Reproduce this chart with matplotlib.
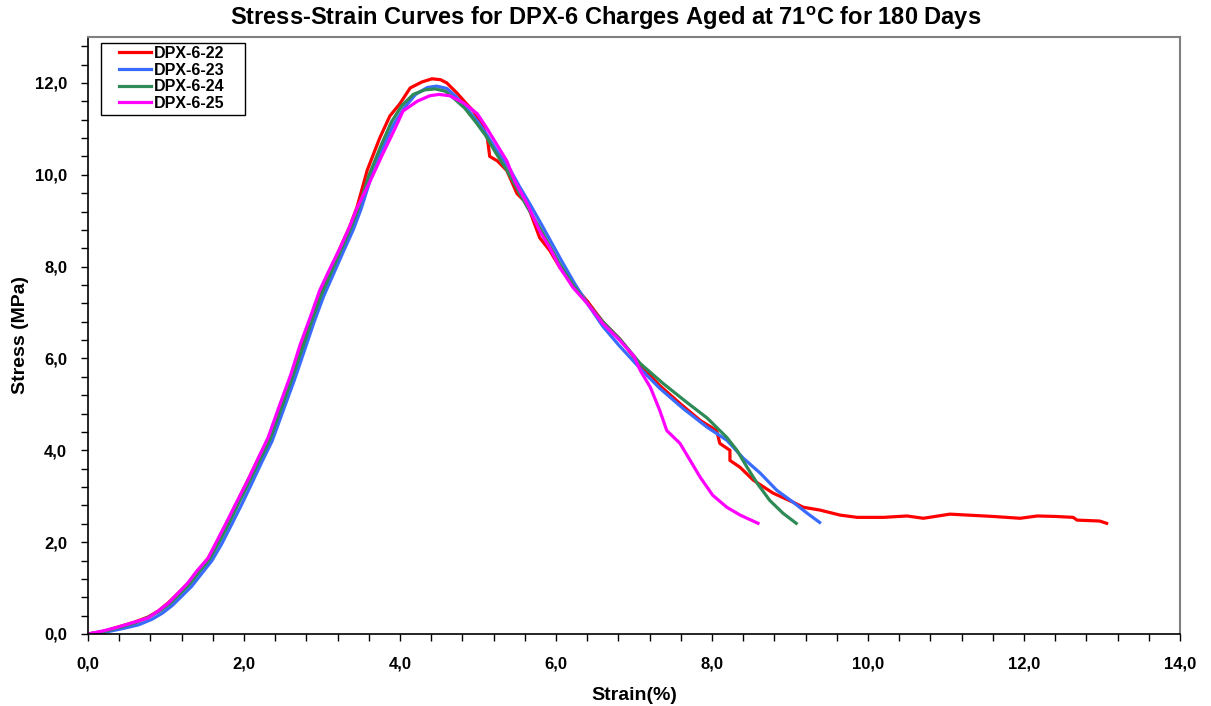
import numpy as np
import matplotlib
matplotlib.use("Agg")
import matplotlib.pyplot as plt
from matplotlib.patches import Rectangle
from matplotlib.ticker import MultipleLocator, FuncFormatter

plt.rcParams["font.family"] = ["Liberation Sans", "DejaVu Sans"]
plt.rcParams["font.weight"] = "bold"
plt.rcParams["mathtext.fontset"] = "custom"
plt.rcParams["mathtext.rm"] = "Liberation Sans:bold"
plt.rcParams["mathtext.bf"] = "Liberation Sans:bold"

# (strain %, stress MPa)
dpx22 = [(0, 0), (0.2, 0.06), (0.4, 0.16), (0.6, 0.26), (0.77, 0.37), (0.9, 0.5),
         (1.03, 0.68), (1.15, 0.88), (1.28, 1.1), (1.4, 1.36), (1.54, 1.65), (1.66, 2.02),
         (1.79, 2.45), (1.92, 2.9), (2.05, 3.35), (2.18, 3.8), (2.31, 4.25), (2.46, 4.95),
         (2.6, 5.6), (2.72, 6.2), (2.85, 6.85), (2.97, 7.4), (3.1, 7.9), (3.23, 8.4),
         (3.35, 8.85), (3.45, 9.3), (3.58, 10.1), (3.74, 10.8), (3.87, 11.28), (4.0, 11.55),
         (4.13, 11.89), (4.28, 12.02), (4.41, 12.09), (4.52, 12.07), (4.6, 12.0), (4.73, 11.78),
         (4.85, 11.55), (4.94, 11.39), (5.05, 11.1), (5.12, 10.8), (5.15, 10.4), (5.25, 10.3),
         (5.37, 10.09), (5.5, 9.59), (5.63, 9.37), (5.79, 8.63), (5.92, 8.35), (6.05, 7.98),
         (6.22, 7.6), (6.4, 7.25), (6.6, 6.8), (6.82, 6.42), (7.08, 5.85), (7.33, 5.41),
         (7.59, 5.02), (7.85, 4.65), (8.06, 4.43), (8.1, 4.15), (8.23, 4.0), (8.23, 3.78),
         (8.36, 3.63), (8.53, 3.35), (8.78, 3.07), (9.04, 2.87), (9.17, 2.76), (9.38, 2.7),
         (9.64, 2.59), (9.86, 2.54), (10.2, 2.54), (10.5, 2.57), (10.71, 2.52), (11.05, 2.61),
         (11.27, 2.59), (11.6, 2.56), (11.95, 2.52), (12.17, 2.57), (12.4, 2.56), (12.63, 2.54),
         (12.68, 2.48), (12.97, 2.46), (13.06, 2.41)]

dpx23 = [(0, 0), (0.25, 0.05), (0.45, 0.12), (0.65, 0.2), (0.82, 0.32), (0.95, 0.45),
         (1.08, 0.62), (1.2, 0.82), (1.33, 1.04), (1.45, 1.3), (1.59, 1.6), (1.71, 1.95),
         (1.84, 2.38), (1.97, 2.82), (2.1, 3.28), (2.23, 3.75), (2.36, 4.2), (2.51, 4.9),
         (2.65, 5.55), (2.77, 6.15), (2.9, 6.8), (3.02, 7.35), (3.15, 7.85), (3.28, 8.35),
         (3.4, 8.8), (3.5, 9.25), (3.63, 9.95), (3.78, 10.6), (3.92, 11.1), (4.05, 11.45),
         (4.2, 11.75), (4.35, 11.9), (4.47, 11.93), (4.6, 11.88), (4.72, 11.7), (4.85, 11.45),
         (5.0, 11.15), (5.12, 10.85), (5.25, 10.5), (5.4, 10.15), (5.53, 9.75), (5.67, 9.35),
         (5.82, 8.9), (5.95, 8.5), (6.08, 8.1), (6.25, 7.6), (6.42, 7.15), (6.6, 6.7),
         (6.8, 6.3), (7.08, 5.78), (7.33, 5.35), (7.63, 4.91), (7.94, 4.5), (8.19, 4.22),
         (8.4, 3.83), (8.62, 3.5), (8.83, 3.13), (9.04, 2.87), (9.22, 2.63), (9.38, 2.43)]

dpx24 = [(0, 0), (0.22, 0.06), (0.42, 0.15), (0.62, 0.25), (0.79, 0.38), (0.92, 0.5),
         (1.05, 0.66), (1.17, 0.86), (1.3, 1.08), (1.42, 1.34), (1.56, 1.63), (1.68, 2.0),
         (1.81, 2.42), (1.94, 2.88), (2.07, 3.32), (2.2, 3.78), (2.33, 4.22), (2.48, 4.92),
         (2.62, 5.58), (2.74, 6.18), (2.87, 6.82), (2.99, 7.38), (3.12, 7.88), (3.25, 8.38),
         (3.37, 8.83), (3.47, 9.28), (3.6, 9.98), (3.76, 10.65), (3.89, 11.15), (4.02, 11.5),
         (4.17, 11.75), (4.32, 11.85), (4.45, 11.87), (4.58, 11.82), (4.7, 11.65), (4.83, 11.45),
         (4.97, 11.15), (5.1, 10.85), (5.22, 10.5), (5.37, 10.1), (5.5, 9.7), (5.63, 9.3),
         (5.79, 8.85), (5.92, 8.45), (6.05, 8.05), (6.22, 7.6), (6.4, 7.2), (6.6, 6.8),
         (6.82, 6.42), (7.08, 5.89), (7.37, 5.46), (7.68, 5.04), (7.94, 4.7), (8.19, 4.28),
         (8.32, 4.0), (8.45, 3.63), (8.58, 3.28), (8.74, 2.91), (8.91, 2.63), (9.08, 2.41)]

dpx25 = [(0, 0), (0.2, 0.07), (0.385, 0.15), (0.6, 0.26), (0.77, 0.35), (0.9, 0.5),
         (1.03, 0.67), (1.15, 0.88), (1.28, 1.11), (1.4, 1.38), (1.54, 1.65), (1.66, 2.05),
         (1.79, 2.48), (1.92, 2.92), (2.05, 3.35), (2.18, 3.82), (2.31, 4.28), (2.46, 5.0),
         (2.6, 5.65), (2.72, 6.3), (2.85, 6.9), (2.97, 7.48), (3.1, 7.95), (3.23, 8.4),
         (3.35, 8.85), (3.45, 9.28), (3.6, 9.8), (3.78, 10.46), (3.92, 10.95), (4.04, 11.39),
         (4.22, 11.6), (4.38, 11.72), (4.5, 11.75), (4.64, 11.72), (4.81, 11.57), (4.99, 11.33),
         (5.1, 11.05), (5.19, 10.8), (5.37, 10.3), (5.47, 9.87), (5.63, 9.37), (5.79, 8.78),
         (5.92, 8.41), (6.05, 7.98), (6.22, 7.54), (6.4, 7.2), (6.6, 6.76), (6.82, 6.39),
         (7.0, 6.05), (7.08, 5.74), (7.21, 5.37), (7.33, 4.87), (7.42, 4.43), (7.59, 4.15),
         (7.72, 3.78), (7.85, 3.41), (8.01, 3.02), (8.19, 2.76), (8.36, 2.59), (8.59, 2.41)]

labels = ["DPX-6-22", "DPX-6-23", "DPX-6-24", "DPX-6-25"]
colors = ["#FF0000", "#3A6BFF", "#2E8B57", "#FF00FF"]

W, H = 1211, 706
fig = plt.figure(figsize=(W / 100, H / 100), dpi=100)
ax = fig.add_axes([88 / W, 1 - 634 / H, (1180 - 88) / W, (634 - 37) / H])

for pts, lab, col in zip([dpx22, dpx23, dpx24, dpx25], labels, colors):
    arr = np.array(pts)
    ax.plot(arr[:, 0], arr[:, 1], color=col, lw=2.3, label=lab)

ax.set_xlim(0, 14)
ax.set_ylim(0, 13)
ax.xaxis.set_major_locator(MultipleLocator(2))
ax.xaxis.set_minor_locator(MultipleLocator(0.4))
ax.yaxis.set_minor_locator(MultipleLocator(0.4))
ax.set_yticks([0, 2, 4, 6, 8, 10, 12])
comma = FuncFormatter(lambda v, p: f"{v:.1f}".replace(".", ","))
ax.xaxis.set_major_formatter(comma)
ax.yaxis.set_major_formatter(comma)
ax.tick_params(which="both", direction="out", length=5, width=1, labelsize=12)
ax.tick_params(axis="x", pad=11)
ax.tick_params(axis="y", pad=10)
ax.tick_params(top=False, right=False, which="both")

for s in ["top", "right"]:
    ax.spines[s].set_color("#808080")
    ax.spines[s].set_linewidth(1.5)
for s in ["left", "bottom"]:
    ax.spines[s].set_color("black")
    ax.spines[s].set_linewidth(1.2)

ax.set_xlabel("Strain(%)", fontsize=14, fontweight="bold", labelpad=11)
ax.set_ylabel("Stress (MPa)", fontsize=14, fontweight="bold", labelpad=4)
fig.text(0.5, 1 - 18 / H,
         r"Stress-Strain Curves for DPX-6 Charges Aged at 71$^{\mathrm{o}}$C for 180 Days",
         fontsize=17, fontweight="bold", ha="center", va="center")

# legend: Excel style box with wide padding
leg = ax.legend(loc="upper left", bbox_to_anchor=(119 / W, 1 - 46 / H),
                bbox_transform=fig.transFigure, frameon=False, borderpad=0,
                borderaxespad=0, labelspacing=0.1, handlelength=2.0,
                handletextpad=0.2, prop={"weight": "bold", "size": 11.5})
fig.patches.append(Rectangle((101 / W, 1 - 115 / H), 144 / W, 72 / H,
                             transform=fig.transFigure, fill=False,
                             edgecolor="black", linewidth=1.0, zorder=5))

fig.savefig("out.png", dpi=100)
